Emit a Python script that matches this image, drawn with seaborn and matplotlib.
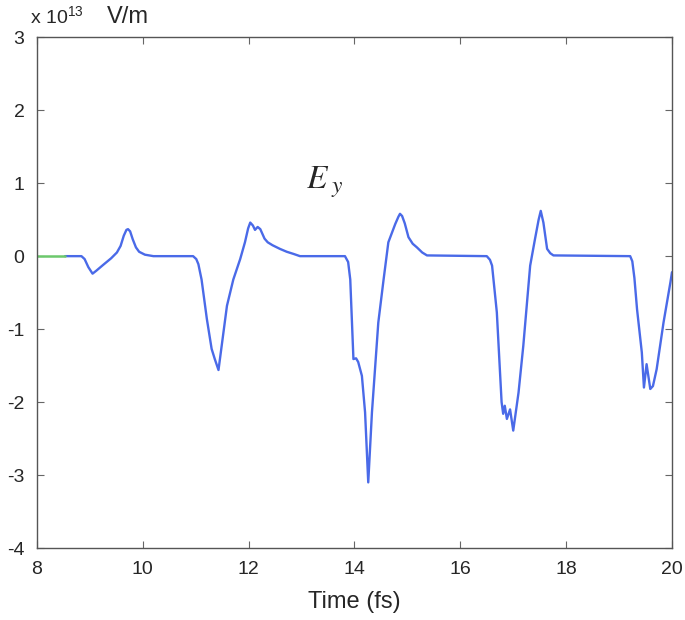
import numpy as np
import pandas as pd
import matplotlib
matplotlib.use('Agg')
import matplotlib.pyplot as plt
import seaborn as sns

# =====================================
# Data (units of 1e13 V/m)
# =====================================
t_pre = [8.0, 8.53]
ey_pre = [0.0, 0.0]

t_main = [8.53, 8.84, 8.90, 8.97, 9.05, 9.12, 9.25, 9.40, 9.51, 9.58, 9.64, 9.69, 9.72, 9.76,
          9.81, 9.87, 9.93, 10.04, 10.2,
          10.95, 11.01, 11.05, 11.11, 11.21, 11.30, 11.36, 11.43, 11.49, 11.59, 11.71, 11.84,
          11.93, 11.99, 12.03, 12.08, 12.12, 12.17, 12.22, 12.30, 12.36, 12.45, 12.59, 12.72,
          12.85, 12.97,
          13.82, 13.88, 13.92, 13.98, 14.03, 14.07, 14.14, 14.20, 14.26, 14.33, 14.45, 14.55,
          14.64, 14.77, 14.83, 14.86, 14.90, 14.95, 15.02, 15.10, 15.18, 15.28, 15.37,
          16.50, 16.56, 16.60, 16.69, 16.78, 16.81, 16.84, 16.88, 16.94, 17.00, 17.10, 17.19,
          17.32, 17.41, 17.48, 17.52, 17.57, 17.64, 17.70, 17.76,
          19.21, 19.25, 19.29, 19.34, 19.43, 19.47, 19.52, 19.59, 19.64, 19.71, 19.84, 19.97, 20.0]
ey_main = [0.0, 0.0, -0.04, -0.15, -0.24, -0.20, -0.12, -0.03, 0.05, 0.14, 0.28, 0.36, 0.37, 0.34,
           0.23, 0.12, 0.06, 0.02, 0.0,
           0.0, -0.04, -0.11, -0.32, -0.86, -1.27, -1.41, -1.56, -1.23, -0.68, -0.32, -0.04,
           0.19, 0.38, 0.46, 0.42, 0.36, 0.40, 0.37, 0.24, 0.19, 0.15, 0.10, 0.06,
           0.03, 0.0,
           0.0, -0.08, -0.32, -1.41, -1.40, -1.45, -1.64, -2.14, -3.10, -2.14, -0.91, -0.32,
           0.19, 0.44, 0.54, 0.58, 0.55, 0.45, 0.26, 0.17, 0.12, 0.05, 0.01,
           0.0, -0.05, -0.13, -0.77, -2.00, -2.16, -2.05, -2.23, -2.10, -2.39, -1.87, -1.23,
           -0.13, 0.23, 0.50, 0.62, 0.46, 0.10, 0.04, 0.01,
           0.0, -0.07, -0.30, -0.73, -1.32, -1.80, -1.48, -1.82, -1.78, -1.55, -0.91, -0.36, -0.22]

x_ticks = [8, 10, 12, 14, 16, 18, 20]
y_ticks = [-4, -3, -2, -1, 0, 1, 2, 3]

df_pre = pd.DataFrame({'t': t_pre, 'ey': ey_pre})
df_main = pd.DataFrame({'t': t_main, 'ey': ey_main})

# =====================================
# Plot
# =====================================
sns.set_style('white')
plt.rcParams['font.family'] = ['Liberation Sans', 'DejaVu Sans']
plt.rcParams['mathtext.fontset'] = 'stix'

fig = plt.figure(figsize=(6.85, 6.2), dpi=100)
ax = fig.add_axes([0.054, 0.116, 0.927, 0.824])

sns.lineplot(data=df_main, x='t', y='ey', ax=ax, color='#4a6ae8', lw=1.7,
             estimator=None, sort=False)
sns.lineplot(data=df_pre, x='t', y='ey', ax=ax, color='#6cc86c', lw=1.8,
             estimator=None, sort=False)

ax.set_xlim(8, 20)
ax.set_ylim(-4, 3)
ax.set_xticks(x_ticks)
ax.set_yticks(y_ticks)
ax.set_xticklabels([str(v) for v in x_ticks], fontsize=14)
ax.set_yticklabels([str(v) for v in y_ticks], fontsize=14)
ax.tick_params(direction='in', length=5, width=0.8, color='#666666',
               top=True, right=True, bottom=True, left=True, pad=9)
ax.set_xlabel('Time (fs)', fontsize=17, labelpad=10)
ax.set_ylabel('')
for s in ax.spines.values():
    s.set_color('#555555')
    s.set_linewidth(1.0)

# field label and unit header
ax.text(13.44, 1.02, r'$E_{\;y}$', fontsize=24, ha='center', va='center')
fig.text(0.044, 0.972, r'x 10$^{\mathregular{13}}$', fontsize=14, ha='left', va='center')
fig.text(0.156, 0.972, 'V/m', fontsize=17, ha='left', va='center')

plt.savefig('out.png', dpi=100)
